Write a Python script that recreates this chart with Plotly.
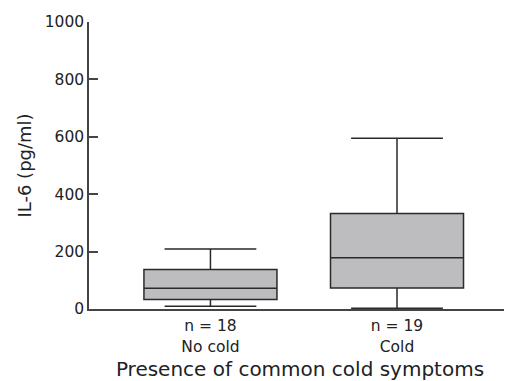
import plotly.graph_objects as go

categories = ["n = 18<br>No cold", "n = 19<br>Cold"]
lower_whisker = [10, 3]
q1_vals = [33, 73]
medians = [72, 179]
q3_vals = [138, 333]
upper_whisker = [209, 595]

fig = go.Figure()
fig.add_trace(go.Box(
    x=[0, 1],
    q1=q1_vals, median=medians, q3=q3_vals,
    lowerfence=lower_whisker, upperfence=upper_whisker,
    fillcolor="#bdbdc0",
    line=dict(color="#2a2a2a", width=1.5),
    whiskerwidth=0.69,
    width=0.713,
    boxpoints=False,
    showlegend=False,
    hoverinfo="skip",
))

# page body has an 8px default margin, so the figure is 8px smaller
fig.update_layout(
    width=504, height=373,
    margin=dict(l=81, r=1, t=14, b=71.5, autoexpand=False),
    paper_bgcolor="white", plot_bgcolor="white",
    font=dict(family="DejaVu Sans, sans-serif", size=15.5, color="#222"),
    xaxis=dict(
        range=[-0.651, 1.611],
        tickmode="array", tickvals=[0, 1], ticktext=categories,
        ticks="outside", ticklen=2, tickcolor="rgba(0,0,0,0)",
        showgrid=False, zeroline=False, automargin=False,
        showline=True, linecolor="#444", linewidth=1.5,
        title=dict(text="Presence of common cold symptoms", standoff=8,
                   font=dict(size=20)),
        tickfont=dict(size=15.5),
    ),
    yaxis=dict(
        range=[0, 1000],
        tickvals=[0, 200, 400, 600, 800, 1000],
        ticks="inside", ticklen=9, tickcolor="#444", tickwidth=1.5,
        showgrid=False, zeroline=False, automargin=False,
        showline=True, linecolor="#444", linewidth=1.5,
        title=dict(text="IL-6 (pg/ml)", standoff=8, font=dict(size=18)),
        tickfont=dict(size=15.5),
    ),
)

fig.write_html("out.html")
